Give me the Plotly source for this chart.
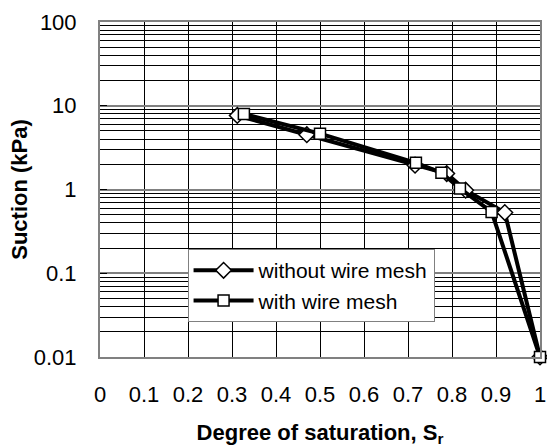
import plotly.graph_objects as go

# Data
sr_without = [0.312, 0.47, 0.716, 0.788, 0.831, 0.92, 1.0]
suction_without = [7.66, 4.51, 1.95, 1.55, 0.98, 0.53, 0.01]

sr_with = [0.327, 0.50, 0.718, 0.776, 0.818, 0.89, 1.0]
suction_with = [7.96, 4.64, 2.08, 1.59, 1.03, 0.54, 0.01]

x_tickvals = [0, 0.1, 0.2, 0.3, 0.4, 0.5, 0.6, 0.7, 0.8, 0.9, 1.0]
x_ticktext = ["0", "0.1", "0.2", "0.3", "0.4", "0.5", "0.6", "0.7", "0.8", "0.9", "1"]
y_tickvals = [0.01, 0.1, 1, 10, 100]
y_ticktext = ["0.01", "0.1", "1", "10", "100"]

FONT = "Liberation Sans, Arial, sans-serif"

fig = go.Figure()
fig.add_trace(go.Scatter(
    x=sr_without, y=suction_without, mode="lines+markers",
    name="without wire mesh",
    line=dict(color="black", width=4),
    marker=dict(symbol="diamond", size=12, color="white",
                line=dict(color="black", width=1.5)),
    cliponaxis=False,
))
fig.add_trace(go.Scatter(
    x=sr_with, y=suction_with, mode="lines+markers",
    name="with wire mesh",
    line=dict(color="black", width=4),
    marker=dict(symbol="square", size=11, color="white",
                line=dict(color="black", width=1.5)),
    cliponaxis=False,
))

fig.update_layout(
    width=547, height=448,
    margin=dict(l=100, r=7, t=22, b=91),
    paper_bgcolor="white", plot_bgcolor="white",
    font=dict(family=FONT, color="black", size=22),
    showlegend=True,
    legend=dict(
        x=0.199, y=0.322, xanchor="left", yanchor="top",
        bgcolor="white", bordercolor="#808080", borderwidth=1,
        font=dict(family=FONT, size=21, color="black"),
        itemwidth=60,
        tracegroupgap=0,
    ),
)

fig.update_xaxes(
    range=[0, 1], tickvals=x_tickvals, ticktext=x_ticktext,
    showgrid=True, gridcolor="black", gridwidth=1,
    showline=True, linecolor="#808080", linewidth=2, mirror=True,
    ticks="", ticklabelstandoff=17, zeroline=False, automargin=False,
    tickfont=dict(family=FONT, size=22),
    title=dict(text="<b>Degree of saturation, S<sub>r</sub></b>",
               font=dict(family=FONT, size=22), standoff=18),
)
fig.update_yaxes(
    type="log", range=[-2, 2], tickvals=y_tickvals, ticktext=y_ticktext,
    showgrid=True, gridcolor="#808080", gridwidth=2,
    minor=dict(dtick="D1", showgrid=True, gridcolor="black", gridwidth=1,
               ticks=""),
    showline=True, linecolor="#808080", linewidth=2, mirror=True,
    ticks="inside", ticklen=7, tickcolor="black", tickwidth=1,
    ticklabelstandoff=17, zeroline=False, automargin=False,
    tickfont=dict(family=FONT, size=22),
    title=dict(text="<b>Suction (kPa)</b>",
               font=dict(family=FONT, size=22), standoff=0),
)

fig.write_html(
    "out.html",
    config={"displayModeBar": False},
    post_script="document.body.style.margin='0';document.body.style.overflow='hidden';",
)
